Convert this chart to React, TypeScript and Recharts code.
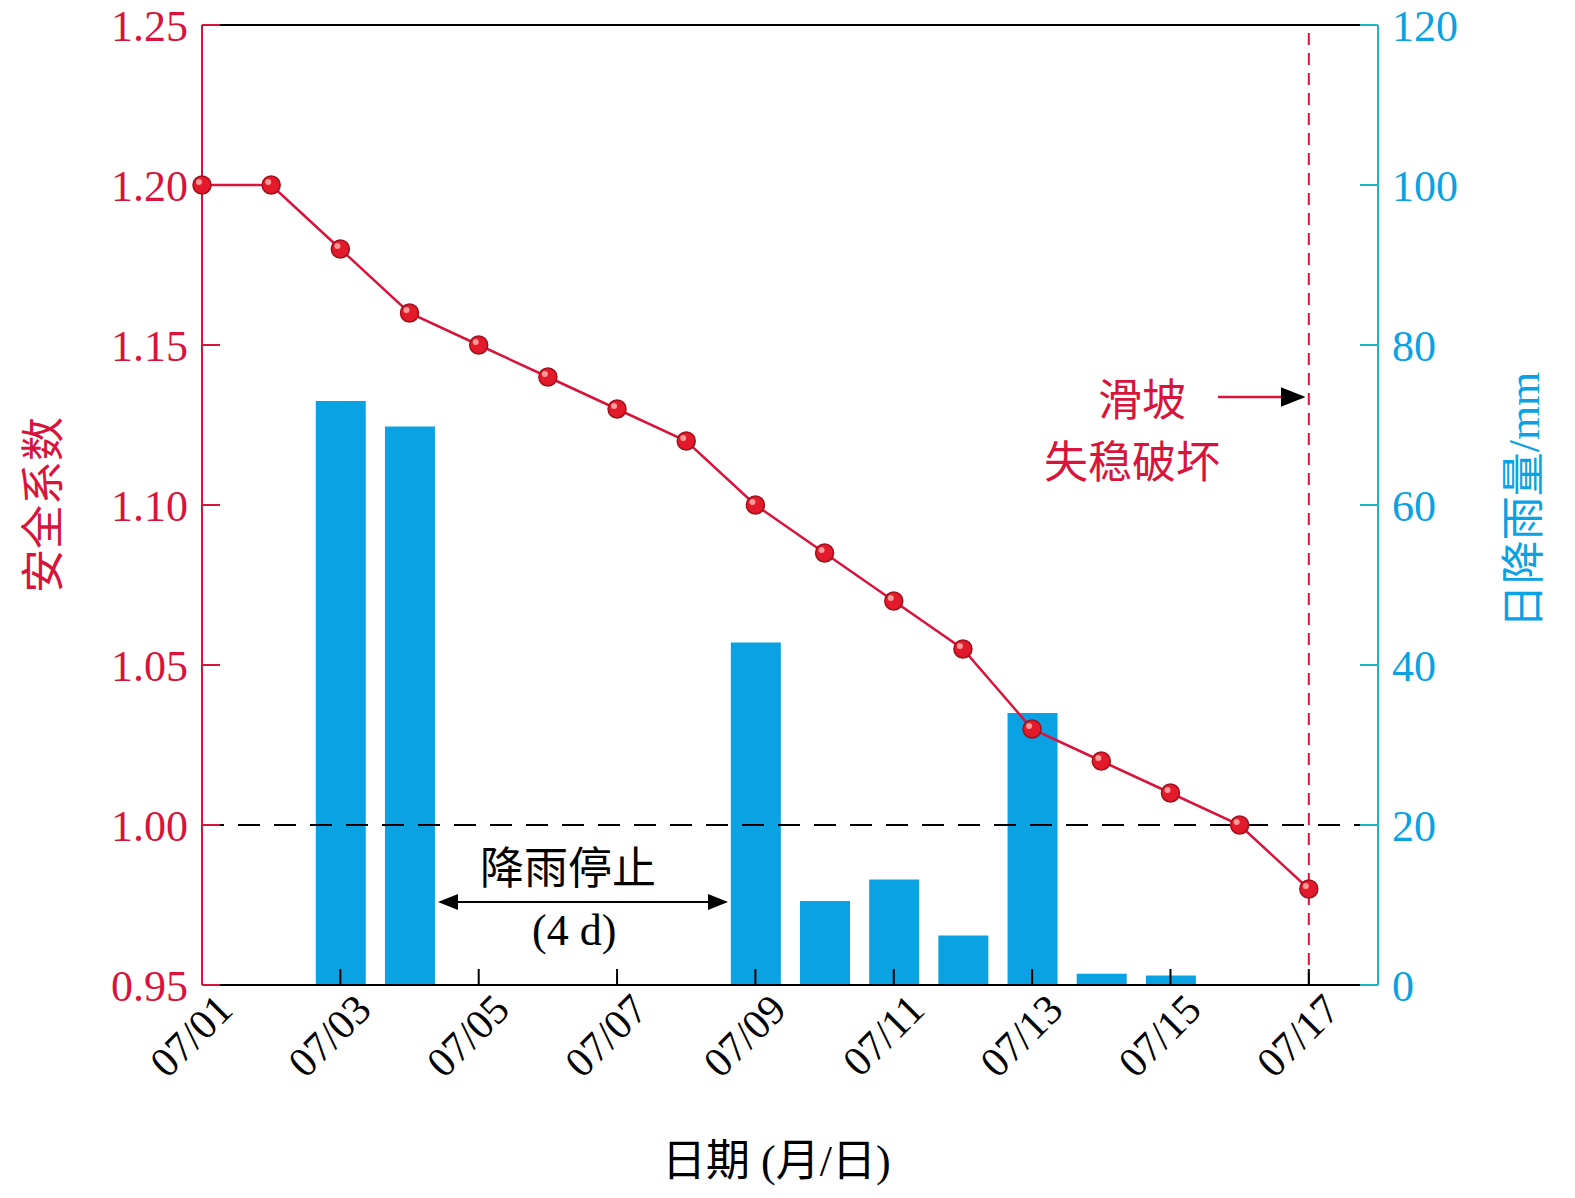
import React from "react";
import {
  Bar,
  ComposedChart,
  Line,
  ReferenceLine,
  XAxis,
  YAxis,
} from "recharts";

const days = [1, 2, 3, 4, 5, 6, 7, 8, 9, 10, 11, 12, 13, 14, 15, 16, 17];
const safety = [1.2, 1.2, 1.18, 1.16, 1.15, 1.14, 1.13, 1.12, 1.1, 1.085, 1.07, 1.055, 1.03, 1.02, 1.01, 1.0, 0.98];
const rainDays = [3, 4, 9, 10, 11, 12, 13, 14, 15];
const rainValues = [73, 69.8, 42.8, 10.5, 13.2, 6.2, 34, 1.4, 1.2];
const xTicks = [1, 3, 5, 7, 9, 11, 13, 15, 17];
const leftTicks = [0.95, 1.0, 1.05, 1.1, 1.15, 1.2, 1.25];
const rightTicks = [0, 20, 40, 60, 80, 100, 120];

const RED = "#D9143C";
const BLUE = "#0AA2E2";
const CYAN = "#19B8C4";
const SERIF = "'Liberation Serif', 'Times New Roman', serif";
const CJK = "'Noto Sans CJK SC', sans-serif";

const data = days.map((d, i) => {
  const k = rainDays.indexOf(d);
  return { day: d, safety: safety[i], rain: k >= 0 ? rainValues[k] : null };
});

const fmtDay = (d: number) => `07/${String(d).padStart(2, "0")}`;

function XTick(props: any) {
  const { x, y, payload } = props;
  return (
    <text
      x={x + 12}
      y={y + 20}
      transform={`rotate(-45 ${x + 12} ${y + 20})`}
      textAnchor="end"
      dominantBaseline="hanging"
      fontFamily={SERIF}
      fontSize={42}
      fill="#000"
    >
      {fmtDay(payload.value)}
    </text>
  );
}

function Dot(props: any) {
  const { cx, cy } = props;
  return (
    <g>
      <circle cx={cx} cy={cy} r={9} fill="#E31A2A" stroke="#A0101C" strokeWidth={1.5} />
      <circle cx={cx - 3} cy={cy - 3} r={3} fill="#FF9A9A" />
    </g>
  );
}

export default function App() {
  return (
    <div style={{ position: "relative", width: 1575, height: 1198, margin: -8, background: "#fff" }}>
      <ComposedChart
        width={1575}
        height={1198}
        data={data}
        margin={{ top: 25, right: 0, left: 0, bottom: 0 }}
      >
        <XAxis
          dataKey="day"
          type="number"
          domain={[1, 18]}
          ticks={xTicks}
          tick={<XTick />}
          tickSize={-16}
          stroke="#000"
          strokeWidth={2}
          height={213}
          interval={0}
        />
        <YAxis
          yAxisId="l"
          domain={[0.95, 1.25]}
          ticks={leftTicks}
          tickFormatter={(v: number) => v.toFixed(2)}
          width={202}
          stroke={RED}
          strokeWidth={2}
          tickSize={-18}
          tick={{ fill: RED, fontSize: 44, fontFamily: SERIF, dx: -30 }}
          allowDataOverflow
        />
        <YAxis
          yAxisId="r"
          orientation="right"
          domain={[0, 120]}
          ticks={rightTicks}
          width={197}
          stroke={CYAN}
          strokeWidth={2}
          tickSize={-18}
          tick={{ fill: BLUE, fontSize: 44, fontFamily: SERIF, dx: 30 }}
        />
        <ReferenceLine yAxisId="l" y={1.25} stroke="#000" strokeWidth={2} />
        <ReferenceLine yAxisId="l" y={1.0} stroke="#000" strokeWidth={2} strokeDasharray="22 14" />
        <Bar yAxisId="r" dataKey="rain" fill={BLUE} barSize={50} isAnimationActive={false} />
        <ReferenceLine yAxisId="l" x={17} stroke={RED} strokeWidth={2} strokeDasharray="12 8" />
        <Line
          yAxisId="l"
          dataKey="safety"
          stroke={RED}
          strokeWidth={2.5}
          dot={<Dot />}
          activeDot={false}
          isAnimationActive={false}
          type="linear"
        />
      </ComposedChart>

      <svg width={1575} height={1198} style={{ position: "absolute", left: 0, top: 0, pointerEvents: "none" }}>
        <defs>
          <marker id="ah" markerWidth="10" markerHeight="8" refX="9" refY="4" orient="auto-start-reverse">
            <path d="M0,0 L10,4 L0,8 Z" fill="currentColor" />
          </marker>
        </defs>
        <line x1={1218} y1={397} x2={1303} y2={397} stroke={RED} strokeWidth={2.5} color={RED} markerEnd="url(#ah)" />
        <line x1={440} y1={902} x2={726} y2={902} stroke="#000" strokeWidth={2} color="#000" markerStart="url(#ah)" markerEnd="url(#ah)" />
      </svg>

      <div style={{ position: "absolute", left: 1098, top: 370, fontFamily: CJK, fontSize: 44, color: RED, lineHeight: "54px" }}>滑坡</div>
      <div style={{ position: "absolute", left: 1044, top: 432, fontFamily: CJK, fontSize: 44, color: RED, lineHeight: "54px" }}>失稳破坏</div>
      <div style={{ position: "absolute", left: 480, top: 838, fontFamily: CJK, fontSize: 44, color: "#000", lineHeight: "54px" }}>降雨停止</div>
      <div style={{ position: "absolute", left: 532, top: 904, fontFamily: SERIF, fontSize: 44, color: "#000", lineHeight: "54px" }}>(4 d)</div>
      <div style={{ position: "absolute", left: 662, top: 1130, fontSize: 44, color: "#000", lineHeight: "54px", whiteSpace: "nowrap" }}>
        <span style={{ fontFamily: CJK }}>日期</span>
        <span style={{ fontFamily: SERIF }}> (</span>
        <span style={{ fontFamily: CJK }}>月</span>
        <span style={{ fontFamily: SERIF }}>/</span>
        <span style={{ fontFamily: CJK }}>日</span>
        <span style={{ fontFamily: SERIF }}>)</span>
      </div>
      <div style={{ position: "absolute", left: 40, top: 505, transform: "translate(-50%,-50%) rotate(-90deg)", fontFamily: CJK, fontSize: 44, color: RED, whiteSpace: "nowrap" }}>安全系数</div>
      <div style={{ position: "absolute", left: 1520, top: 500, transform: "translate(-50%,-50%) rotate(-90deg)", fontSize: 44, color: BLUE, whiteSpace: "nowrap" }}>
        <span style={{ fontFamily: CJK }}>日降雨量</span>
        <span style={{ fontFamily: SERIF }}>/mm</span>
      </div>
    </div>
  );
}
